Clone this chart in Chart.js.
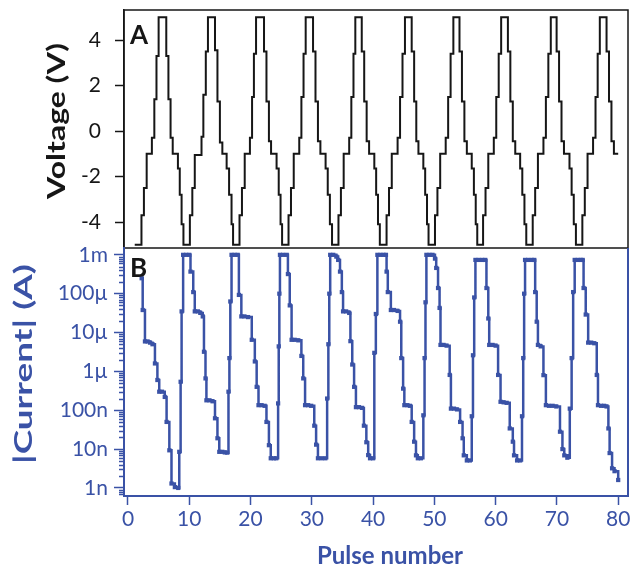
<!DOCTYPE html>
<html>
<head>
<meta charset="utf-8">
<script src="https://cdn.jsdelivr.net/npm/chart.js@4.4.0/dist/chart.umd.min.js"></script>
<style>
  html, body { margin: 0; padding: 0; background: #fff; }
  #wrap { position: relative; width: 638px; height: 575px; }
  #wrap canvas { position: absolute; left: 0; top: 0; }
</style>
</head>
<body>
<div id="wrap">
  <canvas id="voltChart" width="638" height="575"></canvas>
  <canvas id="currChart" width="638" height="575"></canvas>
</div>
<script>
// Pulse axis
const pulseTicks = [0, 10, 20, 30, 40, 50, 60, 70, 80];

// Panel A: applied voltage, stepped (level starts at given pulse)
const voltTicks = [-4, -2, 0, 2, 4];
const voltPulse = [
  1.1,
  2.2, 2.6, 3.05, 3.9, 4.3, 4.65, 5.0, 6.25, 6.6, 6.95, 7.3, 8.15, 8.45, 8.75, 9.05,
  10.1, 10.5, 10.9, 12.0, 12.3, 12.7, 13.05, 14.2, 14.6, 15.0, 15.4, 16.1, 16.5, 16.9, 17.15,
  18.2, 18.6, 19.05, 19.9, 20.25, 20.55, 20.9, 22.2, 22.6, 23.0, 23.35, 24.25, 24.6, 24.9, 25.15,
  26.2, 26.6, 27.05, 27.95, 28.3, 28.65, 29.0, 30.2, 30.6, 31.0, 31.4, 32.25, 32.6, 32.95, 33.3,
  34.35, 34.75, 35.2, 36.1, 36.45, 36.8, 37.1, 38.15, 38.55, 38.95, 39.35, 40.2, 40.5, 40.8, 41.1,
  42.2, 42.6, 43.05, 44.0, 44.4, 44.8, 45.2, 46.3, 46.7, 47.05, 47.4, 48.2, 48.5, 48.8, 49.05,
  50.1, 50.5, 50.95, 51.85, 52.25, 52.65, 53.1, 54.1, 54.5, 54.9, 55.3, 56.1, 56.45, 56.75, 57.0,
  57.95, 58.35, 58.8, 59.7, 60.1, 60.5, 60.9, 62.0, 62.4, 62.8, 63.2, 64.0, 64.35, 64.7, 65.0,
  66.05, 66.45, 66.9, 67.8, 68.2, 68.6, 69.0, 69.95, 70.35, 70.75, 71.15, 72.05, 72.4, 72.75, 73.1,
  74.15, 74.55, 75.0, 75.9, 76.3, 76.65, 77.0, 78.1, 78.5, 78.9, 79.3, 80.0
];
const voltage = [
  -5,
  -3.7, -2.5, -1, -0.3, 1.4, 3.3, 5, 3.3, 1.4, -0.3, -1, -1.65, -2.8, -4.1, -5,
  -3.7, -2.5, -1.05, -0.25, 1.6, 3.5, 5, 3.55, 1.3, -0.5, -1, -1.65, -2.8, -4.1, -5,
  -3.7, -2.5, -1, -0.3, 1.5, 3.4, 5, 3.5, 1.3, -0.45, -1, -1.65, -2.8, -4.1, -5,
  -3.7, -2.5, -1, -0.3, 1.5, 3.4, 5, 3.5, 1.3, -0.45, -1, -1.65, -2.8, -4.1, -5,
  -3.7, -2.5, -1, -0.3, 1.5, 3.4, 5, 3.5, 1.3, -0.45, -1, -1.65, -2.8, -4.1, -5,
  -3.7, -2.5, -1, -0.3, 1.5, 3.4, 5, 3.5, 1.3, -0.45, -1, -1.65, -2.8, -4.1, -5,
  -3.7, -2.5, -1, -0.3, 1.5, 3.4, 5, 3.5, 1.3, -0.45, -1, -1.65, -2.8, -4.1, -5,
  -3.7, -2.5, -1, -0.3, 1.5, 3.4, 5, 3.5, 1.3, -0.45, -1, -1.65, -2.8, -4.1, -5,
  -3.7, -2.5, -1, -0.3, 1.5, 3.4, 5, 3.5, 1.3, -0.45, -1, -1.65, -2.8, -4.1, -5,
  -3.7, -2.5, -1, -0.3, 1.5, 3.4, 5, 3.5, 1.3, -0.45, -1, -1
];

// Panel B: |current| in amperes
const currTicks = [1e-9, 1e-8, 1e-7, 1e-6, 1e-5, 1e-4, 1e-3];
const currTickLabels = ['1n', '10n', '100n', '1µ', '10µ', '100µ', '1m'];
const currPulse = [
  2.23, 2.4, 2.77, 3.2, 3.6, 4.0, 4.4, 4.8, 5.1, 5.55, 6.0, 6.3, 6.75, 7.1, 7.65, 8.2, 8.37, 8.59, 8.75, 9.0, 9.5, 10.0,
  10.2, 10.65, 10.9, 11.4, 11.8, 12.2, 12.4, 12.65, 12.8, 13.3, 13.8, 14.2, 14.6, 14.9, 15.4, 15.8, 16.2, 16.4, 16.55, 16.7, 16.9, 17.4, 17.9,
  18.1, 18.5, 19.0, 19.6, 20.2, 20.7, 21.0, 21.3, 21.8, 22.3, 22.6, 23.0, 23.3, 23.8, 24.2, 24.5, 24.6, 24.7, 24.8, 25.3, 25.9,
  26.1, 26.4, 26.7, 27.2, 27.8, 28.3, 28.6, 28.9, 29.4, 29.9, 30.4, 30.7, 31.0, 31.6, 32.2, 32.5, 32.7, 32.85, 33.0, 33.5, 34.0, 34.3,
  34.6, 34.9, 35.1, 35.6, 36.1, 36.3, 36.6, 36.9, 37.2, 37.7, 38.2, 38.5, 38.9, 39.2, 39.5, 40.0, 40.2, 40.45, 40.7, 41.2, 41.7, 42.1,
  42.2, 42.4, 42.9, 43.4, 44.0, 44.4, 44.6, 44.9, 45.1, 45.6, 46.0, 46.3, 46.7, 47.0, 47.3, 47.8, 48.2, 48.4, 48.55, 48.7, 49.2, 49.7, 50.1,
  50.3, 50.6, 50.85, 51.0, 51.5, 52.0, 52.5, 52.7, 53.2, 53.7, 54.2, 54.6, 54.8, 55.3, 55.8, 56.1, 56.3, 56.5, 56.7, 57.2, 57.8, 58.3,
  58.5, 58.8, 58.95, 59.5, 60.0, 60.4, 60.8, 61.3, 61.8, 62.3, 62.8, 63.0, 63.5, 64.0, 64.3, 64.5, 64.65, 64.8, 65.3, 65.9, 66.3,
  66.45, 66.7, 66.9, 67.35, 67.8, 68.2, 68.7, 69.3, 69.9, 70.5, 70.9, 71.2, 71.7, 72.1, 72.4, 72.65, 72.9, 73.4, 73.9, 74.2,
  74.35, 74.7, 75.1, 75.6, 76.1, 76.5, 76.7, 77.2, 77.7, 78.1, 78.4, 78.6, 79.0, 79.4, 80.0
];
const currAmp = [
  2.5e-4, 3.8e-5, 5.9e-6, 5.9e-6, 5.5e-6, 5.0e-6, 1.6e-6, 6e-7, 3e-7, 3e-7, 2.2e-7, 5e-8, 9.3e-9, 1.3e-9, 1.05e-9, 1.0e-9, 8.5e-9, 5.4e-7, 3.5e-5, 1e-3, 1e-3, 1e-3,
  3.7e-4, 1.1e-4, 3.5e-5, 3.5e-5, 3.2e-5, 2.6e-5, 3.2e-6, 6.6e-7, 1.8e-7, 1.8e-7, 1.7e-7, 6.2e-8, 1.9e-8, 8.5e-9, 8.5e-9, 8.2e-9, 8.1e-9, 3e-7, 2.2e-6, 6.3e-5, 1e-3, 1e-3, 1e-3,
  9.3e-5, 2.6e-5, 2.6e-5, 2.5e-5, 6.5e-6, 1.8e-6, 4e-7, 1.35e-7, 1.35e-7, 1.3e-7, 5e-8, 1.26e-8, 5.8e-9, 5.8e-9, 5.8e-9, 1.5e-7, 4.4e-6, 1e-4, 1e-3, 1e-3, 1e-3,
  3.2e-4, 5e-5, 6.5e-6, 6.5e-6, 6.3e-6, 2.5e-6, 6.6e-7, 1.35e-7, 1.35e-7, 1.3e-7, 4e-8, 1.3e-8, 5.8e-9, 5.8e-9, 5.8e-9, 2e-7, 5e-6, 1e-4, 1e-3, 1e-3, 9e-4, 7.4e-4,
  3.7e-4, 1.1e-4, 3.5e-5, 3.5e-5, 3.2e-5, 6e-6, 1.5e-6, 4e-7, 1.2e-7, 1.2e-7, 1.15e-7, 4e-8, 1.5e-8, 7e-9, 5.8e-9, 5.8e-9, 3e-6, 3e-5, 1e-3, 1e-3, 1e-3, 1e-3,
  3.7e-4, 1.1e-4, 3.8e-5, 3.8e-5, 3.6e-5, 1.9e-5, 2.2e-6, 3.6e-7, 1.35e-7, 1.35e-7, 1.3e-7, 5e-8, 1.55e-8, 6.9e-9, 5.8e-9, 5.8e-9, 7.4e-8, 2.2e-6, 6e-5, 1e-3, 1e-3, 1e-3, 8e-4,
  4.6e-4, 1.4e-4, 4.3e-5, 4.8e-6, 4.8e-6, 4.6e-6, 8.1e-7, 1.1e-7, 1.1e-7, 1.05e-7, 5e-8, 1.9e-8, 6.9e-9, 5.1e-9, 5.1e-9, 7e-8, 2.6e-6, 8e-5, 7.4e-4, 7.4e-4, 7.4e-4, 7.4e-4,
  1.4e-4, 2.3e-5, 4.8e-6, 4.8e-6, 4.6e-6, 8.1e-7, 1.65e-7, 1.6e-7, 1.55e-7, 3.4e-8, 1.55e-8, 6.9e-9, 5.1e-9, 5.1e-9, 7e-8, 2.2e-6, 1e-4, 7.4e-4, 7.4e-4, 7.4e-4, 7.4e-4,
  1.1e-4, 1.9e-5, 4.8e-6, 4.4e-6, 8e-7, 1.35e-7, 1.3e-7, 1.3e-7, 1.25e-7, 2.8e-8, 1e-8, 6.9e-9, 6e-9, 1.1e-7, 2.2e-6, 1.1e-4, 7.4e-4, 7.4e-4, 7.4e-4, 7.4e-4,
  1.4e-4, 2.9e-5, 5.5e-6, 5.5e-6, 5.3e-6, 8.1e-7, 1.35e-7, 1.3e-7, 1.3e-7, 1.25e-7, 3.4e-8, 7.9e-9, 3.2e-9, 2.7e-9, 1.6e-9
];

const BLACK = '#161616';
const BLUE = '#3a52a6';
const FONT = 'Lato, "Open Sans", sans-serif';

// shared x range so both panels line up
const xMin = -0.65;
const xMax = 81.6;

// axis titles in the source are drawn elongated along their reading direction
function drawTitle(ctx, text, cx, cy, length, font, color, vertical) {
  ctx.save();
  ctx.font = font;
  ctx.fillStyle = color;
  ctx.textAlign = 'center';
  ctx.textBaseline = 'middle';
  const w = ctx.measureText(text).width;
  ctx.translate(cx, cy);
  if (vertical) ctx.rotate(-Math.PI / 2);
  ctx.scale(length ? length / w : 1, 1);
  ctx.fillText(text, 0, 0);
  ctx.restore();
}

const frameA = {
  id: 'frameA',
  afterDraw(chart) {
    const { ctx, chartArea: a } = chart;
    ctx.save();
    ctx.strokeStyle = BLACK;
    ctx.lineWidth = 1.5;
    ctx.strokeRect(a.left, a.top, a.right - a.left, a.bottom - a.top);
    ctx.fillStyle = BLACK;
    ctx.font = 'bold 26px ' + FONT;
    ctx.textBaseline = 'alphabetic';
    ctx.fillText('A', a.left + 6, a.top + 34);
    ctx.restore();
    drawTitle(ctx, 'Voltage (V)', 57, 121, 156, 'bold 24px ' + FONT, BLACK, true);
  }
};

const frameB = {
  id: 'frameB',
  afterDraw(chart) {
    const { ctx, chartArea: a } = chart;
    const s = chart.scales.y;
    ctx.save();
    // right edge of the lower panel
    ctx.strokeStyle = BLUE;
    ctx.lineWidth = 2;
    ctx.beginPath();
    ctx.moveTo(a.right, a.top);
    ctx.lineTo(a.right, a.bottom);
    ctx.stroke();
    // minor ticks of the log axis
    ctx.lineWidth = 1.5;
    for (let d = -10; d <= -3; d++) {
      for (let m = 2; m <= 9; m++) {
        const v = m * Math.pow(10, d);
        if (v < s.min || v > s.max) continue;
        const y = Math.round(s.getPixelForValue(v)) + 0.5;
        ctx.beginPath();
        ctx.moveTo(a.left - 5, y);
        ctx.lineTo(a.left, y);
        ctx.stroke();
      }
    }
    ctx.fillStyle = BLACK;
    ctx.font = 'bold 26px ' + FONT;
    ctx.textBaseline = 'alphabetic';
    ctx.fillText('B', a.left + 6, a.top + 29);
    ctx.restore();
    drawTitle(ctx, '|Current| (A)', 24, 364, 200, 'bold 24px ' + FONT, BLUE, true);
    drawTitle(ctx, 'Pulse number', 390, 556, 0, 'bold 24px ' + FONT, BLUE, false);
  }
};

new Chart(document.getElementById('voltChart'), {
  type: 'line',
  data: {
    datasets: [{
      data: voltPulse.map((x, i) => ({ x: x, y: voltage[i] })),
      borderColor: BLACK,
      borderWidth: 2,
      pointRadius: 0,
      stepped: true,
      fill: false
    }]
  },
  options: {
    responsive: false,
    animation: false,
    layout: { padding: { left: 0, right: 10, top: 10, bottom: 327 } },
    plugins: { legend: { display: false }, tooltip: { enabled: false } },
    scales: {
      x: { type: 'linear', min: xMin, max: xMax, display: false },
      y: {
        type: 'linear',
        min: -5.14,
        max: 5.32,
        afterFit: s => { s.width = 124; s.paddingTop = 0; s.paddingBottom = 0; },
        afterBuildTicks: s => { s.ticks = voltTicks.map(v => ({ value: v })); },
        grid: { drawOnChartArea: false, tickLength: 9, color: BLACK, tickWidth: 1.5 },
        border: { color: BLACK, width: 1.5 },
        ticks: { color: BLACK, font: { family: FONT, size: 21 }, padding: 14 }
      }
    }
  },
  plugins: [frameA]
});

new Chart(document.getElementById('currChart'), {
  type: 'line',
  data: {
    datasets: [{
      data: currPulse.map((x, i) => ({ x: x, y: currAmp[i] })),
      borderColor: BLUE,
      backgroundColor: BLUE,
      borderWidth: 2.5,
      pointStyle: 'rect',
      pointRadius: 3,
      pointBorderWidth: 0,
      stepped: true,
      fill: false
    }]
  },
  options: {
    responsive: false,
    animation: false,
    layout: { padding: { left: 0, right: 10, top: 248, bottom: 0 } },
    plugins: { legend: { display: false }, tooltip: { enabled: false } },
    scales: {
      x: {
        type: 'linear',
        min: xMin,
        max: xMax,
        afterFit: s => { s.height = 79; },
        afterBuildTicks: s => { s.ticks = pulseTicks.map(v => ({ value: v })); },
        grid: { drawOnChartArea: false, tickLength: 9, color: BLUE, tickWidth: 1.5 },
        border: { color: BLUE, width: 2 },
        ticks: { color: BLUE, font: { family: FONT, size: 21 }, padding: 2, maxRotation: 0 }
      },
      y: {
        type: 'logarithmic',
        min: 6.2e-10,
        max: 1.5e-3,
        afterFit: s => { s.width = 124; },
        afterBuildTicks: s => { s.ticks = currTicks.map(v => ({ value: v, major: true })); },
        grid: { drawOnChartArea: false, tickLength: 10, color: BLUE, tickWidth: 1.5 },
        border: { color: BLUE, width: 2 },
        ticks: {
          color: BLUE,
          font: { family: FONT, size: 21 },
          padding: 6,
          callback: (v) => {
            const i = currTicks.findIndex(t => Math.abs(t - v) / t < 1e-6);
            return i >= 0 ? currTickLabels[i] : '';
          }
        }
      }
    }
  },
  plugins: [frameB]
});
</script>
</body>
</html>
